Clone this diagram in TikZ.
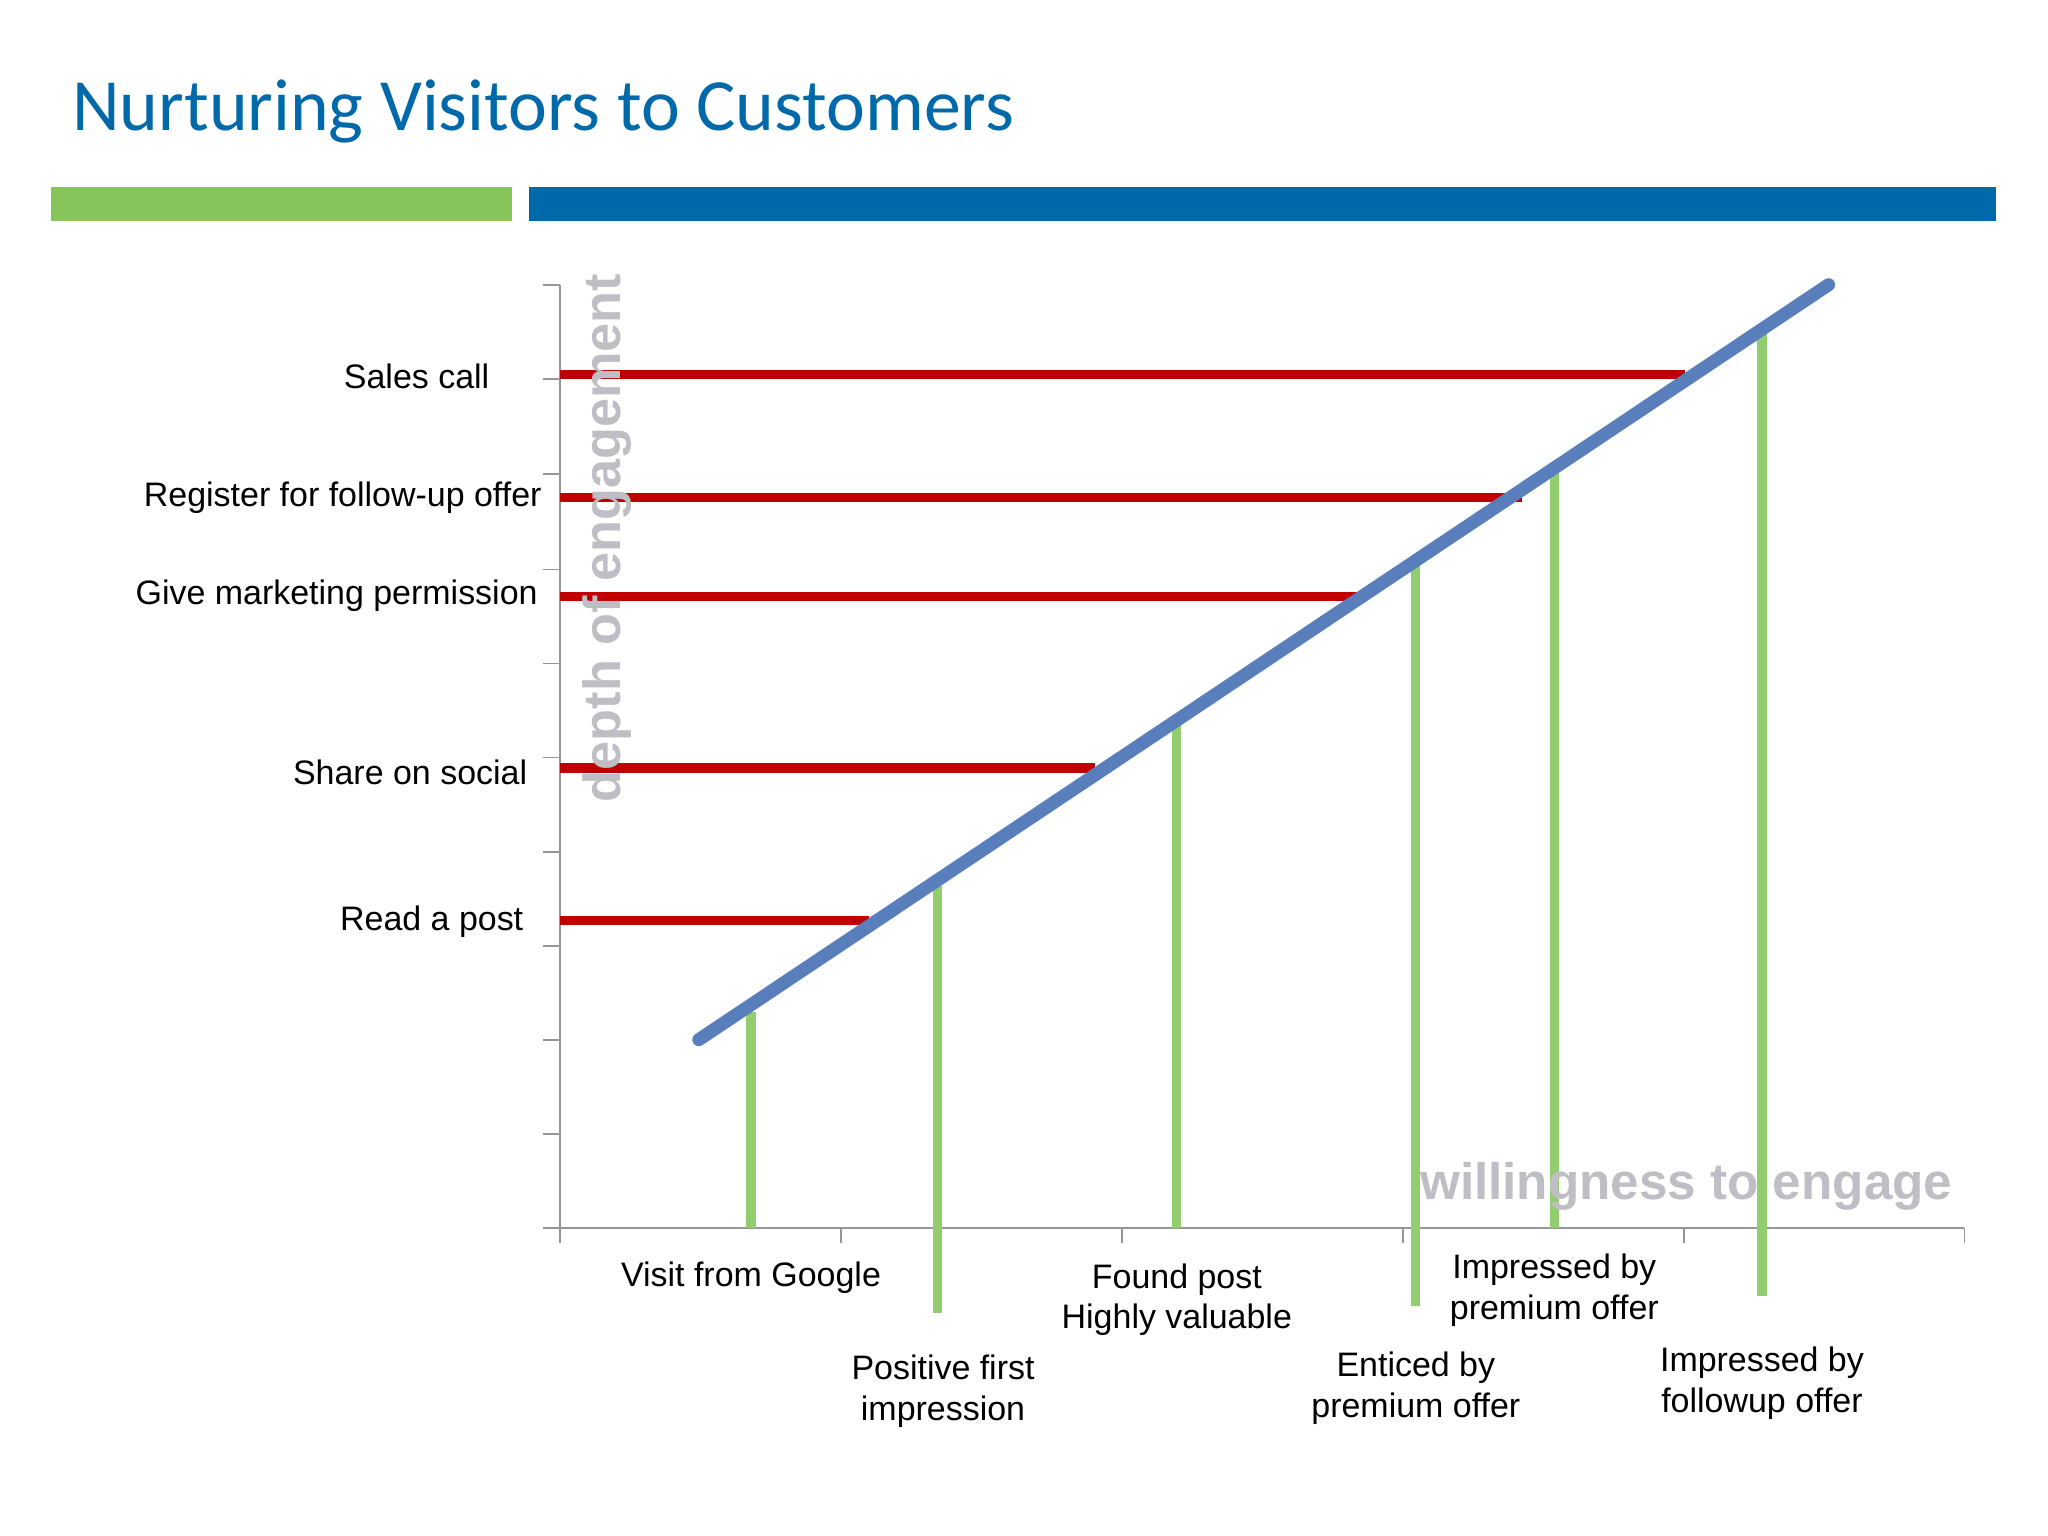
\documentclass[tikz,border=0pt]{standalone}
\usepackage{fontspec}
\setmainfont{Liberation Sans}
\newfontfamily\titlefont{Carlito}
\definecolor{tblue}{RGB}{0,105,170}
\definecolor{bargreen}{RGB}{133,197,90}
\definecolor{barblue}{RGB}{0,105,170}
\definecolor{axisgray}{RGB}{150,150,150}
\definecolor{lred}{RGB}{192,0,0}
\definecolor{dblue}{RGB}{88,127,188}
\definecolor{lgreen}{RGB}{146,205,112}
\definecolor{labgray}{RGB}{190,190,196}
\begin{document}
\begin{tikzpicture}[x=0.5pt,y=-0.5pt,
  lab/.style={font=\fontsize{13}{15.5}\selectfont,align=center,inner sep=0pt},
  llab/.style={font=\fontsize{13}{15.5}\selectfont,anchor=east,inner sep=0pt},
  redl/.style={lred,line width=3.5pt},
  grnl/.style={lgreen,line width=3.5pt},
  ax/.style={axisgray,line width=0.7pt}]
\useasboundingbox (0,0) rectangle (1568,1176);
\fill[white] (0,0) rectangle (1568,1176);
\node[anchor=base west,text=tblue,inner sep=0pt,font=\titlefont\fontsize{28.2}{31}\selectfont] (title) at (55,100) {Nurturing Visitors to Customers};
\fill[bargreen] (39,143) rectangle (392,169);
\fill[barblue] (405,143) rectangle (1528,169);
% axes
\coordinate (o) at (429,940);
\draw[ax] (429,218) -- (o) -- (1504,940);
\foreach \y in {218,290,363,436,508,580,652,724,796,868,940} \draw[ax] (416,\y) -- (429,\y);
\foreach \x in {429,644,859,1074,1289,1504} \draw[ax] (\x,940) -- (\x,952);
% red lines
\foreach \n/\y/\x in {a/287/1290,b/381/1165,c/457/1045,d/588/838,e/705/665}{
  \coordinate (r\n s) at (429,\y); \coordinate (r\n e) at (\x,\y);
  \draw[redl] (r\n s) -- (r\n e);}
\node[rotate=90,text=labgray,font=\bfseries\fontsize{20}{22}\selectfont,inner sep=0pt] (yl) at (465,412) {depth of engagement};
% green lines
\foreach \n/\x/\ya/\yb in {a/575/775/940,b/718/678/1005,c/901/553/940,d/1084/432/1000,e/1190/360/940,f/1349/255/992}{
  \coordinate (g\n t) at (\x,\ya); \coordinate (g\n b) at (\x,\yb);
  \draw[grnl] (g\n t) -- (g\n b);}
\node[text=labgray,font=\bfseries\fontsize{19.6}{22}\selectfont,inner sep=0pt] (xl) at (1291,908) {willingness to engage};
% diagonal
\coordinate (d1) at (535,796); \coordinate (d2) at (1400,218);
\draw[dblue,line width=5pt,line cap=round] (d1) -- (d2);
% left labels
\node[llab] (l1) at (375,288) {Sales call};
\node[llab] (l2) at (415,381) {Register for follow-up offer};
\node[llab] (l3) at (412,456) {Give marketing permission};
\node[llab] (l4) at (404,591) {Share on social};
\node[llab] (l5) at (401,706) {Read a post};
% bottom labels
\node[lab] (b1) at (575,978) {Visit from Google};
\node[lab] (b2) at (901,995) {Found post\\Highly valuable};
\node[lab] (b3) at (722,1065) {Positive first\\impression};
\node[lab] (b4) at (1084,1063) {Enticed by\\premium offer};
\node[lab] (b5) at (1190,988) {Impressed by\\premium offer};
\node[lab] (b6) at (1349,1059) {Impressed by\\followup offer};
\end{tikzpicture}
\end{document}
